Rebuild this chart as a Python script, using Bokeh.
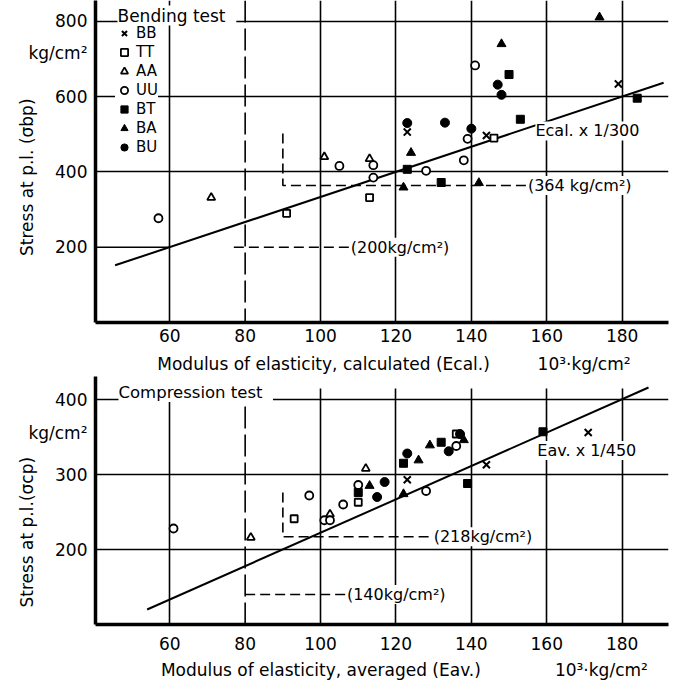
from bokeh.plotting import figure
from bokeh.models import FixedTicker, Label, Span, Legend, LegendItem, Range1d, LinearAxis
from bokeh.layouts import column
from bokeh.embed import file_html
from bokeh.resources import INLINE

FONT = "DejaVu Sans"

# ---------------- data ----------------
x_ticks = [60, 80, 100, 120, 140, 160, 180]
bend_y_ticks = [200, 400, 600, 800]
comp_y_ticks = [200, 300, 400]
series = ["BB", "TT", "AA", "UU", "BT", "BA", "BU"]

# Bending test (Ecal, sigma_bp)
bend_BB_x = [123, 144, 179]
bend_BB_y = [506, 497, 634]
bend_TT_x = [91, 113, 146]
bend_TT_y = [290, 332, 490]
bend_AA_x = [71, 101, 113]
bend_AA_y = [332, 440, 435]
bend_UU_x = [57, 105, 114, 114, 128, 138, 139, 141]
bend_UU_y = [277, 416, 418, 385, 403, 431, 488, 683]
bend_BT_x = [123, 132, 150, 153, 184]
bend_BT_y = [407, 372, 659, 540, 596]
bend_BA_x = [122, 124, 142, 148, 174]
bend_BA_y = [359, 451, 371, 740, 811]
bend_BU_x = [123, 133, 140, 147, 148]
bend_BU_y = [530, 531, 515, 632, 605]

# Compression test (Eav, sigma_cp)
comp_BB_x = [123, 144, 171]
comp_BB_y = [293, 313, 356]
comp_TT_x = [93, 110, 136]
comp_TT_y = [241, 263, 354]
comp_AA_x = [81.5, 102.5, 112]
comp_AA_y = [216, 247, 308]
comp_UU_x = [61, 97, 101, 102.5, 106, 110, 128, 136]
comp_UU_y = [228, 272, 239, 239, 260, 286, 278, 338]
comp_BT_x = [110, 122, 132, 139, 159]
comp_BT_y = [276, 315, 343, 288, 357]
comp_BA_x = [113, 122, 126, 129, 138]
comp_BA_y = [285, 274, 319, 339, 346]
comp_BU_x = [115, 117, 123, 134, 137]
comp_BU_y = [270, 290, 328, 331, 354]

# fitted lines (E x 1/300, E x 1/450)
bend_fit_x = [45.5, 191]
bend_fit_y = [152, 637]
comp_fit_x = [54, 187]
comp_fit_y = [120, 416]

# dashed reference lines
bend_ref364_x = [90, 90, 155]
bend_ref364_y = [502, 364, 364]
bend_ref200_x = [77, 108]
bend_ref200_y = [200, 200]
comp_ref218_x = [90, 90, 130]
comp_ref218_y = [276, 217, 217]
comp_ref140_x = [80, 107]
comp_ref140_y = [140, 140]

# axis texts
bend_y_unit_at = 715
comp_y_unit_at = 356
bend_y_title_at = 386
comp_y_title_at = 223
bend_x_title = ["Modulus of elasticity, calculated (Ecal.)", "10³·kg/cm²"]
bend_x_title_at = [100.8, 169.9]
comp_x_title = ["Modulus of elasticity, averaged (Eav.)", "10³·kg/cm²"]
comp_x_title_at = [100.1, 174.5]

X_START, X_END = 40.3, 192.3

STYLES = {
    "BB": dict(marker="x", size=10, fill_color=None, line_color="black", line_width=2),
    "TT": dict(marker="square", size=7, fill_color="white", line_color="black", line_width=1.8),
    "AA": dict(marker="triangle", size=8, fill_color="white", line_color="black", line_width=1.8),
    "UU": dict(marker="circle", size=8, fill_color="white", line_color="black", line_width=1.8),
    "BT": dict(marker="square", size=8, fill_color="black", line_color="black", line_width=1),
    "BA": dict(marker="triangle", size=9, fill_color="black", line_color="black", line_width=1),
    "BU": dict(marker="circle", size=9, fill_color="black", line_color="black", line_width=1),
}


def base_fig(height, y_range, border_bottom):
    p = figure(width=681, height=height, x_range=Range1d(X_START, X_END), y_range=y_range,
               output_backend="svg", toolbar_location=None,
               min_border_left=95, min_border_right=13, min_border_top=0,
               min_border_bottom=border_bottom)
    p.outline_line_color = None
    p.background_fill_color = "white"
    p.border_fill_color = "white"
    for ax in (p.xaxis, p.yaxis):
        ax.major_tick_line_color = None
        ax.minor_tick_line_color = None
        ax.axis_line_width = 3.5
        ax.axis_line_color = "black"
        ax.major_label_text_font = FONT
        ax.major_label_text_font_size = "17px"
        ax.major_label_text_color = "black"
    p.xaxis.ticker = FixedTicker(ticks=x_ticks)
    p.yaxis.major_label_standoff = 2
    p.xgrid.ticker = FixedTicker(ticks=[t for t in x_ticks if t != 80])
    for g in (p.xgrid, p.ygrid):
        g.grid_line_color = "black"
        g.grid_line_width = 1.6
        g.grid_line_alpha = 1
    return p


def text_axis(p, side, ticks, labels, orientation="horizontal", standoff=0):
    ax = LinearAxis(ticker=FixedTicker(ticks=ticks),
                    major_label_overrides=dict(zip(ticks, labels)),
                    axis_line_color=None, major_tick_line_color=None,
                    minor_tick_line_color=None, major_label_text_font=FONT,
                    major_label_text_font_size="17px", major_label_text_color="black",
                    major_label_standoff=standoff, major_label_orientation=orientation)
    p.add_layout(ax, side)
    return ax


def lab(p, text, x, y, size="16px", units="data", align="left", bg=True):
    kw = dict(x=x, y=y, x_units=units, y_units=units, text=text, text_font=FONT,
              text_font_size=size, text_align=align, text_baseline="middle",
              text_color="black")
    if bg:
        kw.update(background_fill_color="white", background_fill_alpha=1.0)
    p.add_layout(Label(**kw))


# ---------------- Bending test ----------------
p1 = base_fig(376, Range1d(0, 855.6), 53)
p1.yaxis.ticker = FixedTicker(ticks=bend_y_ticks + [bend_y_unit_at])
p1.yaxis.major_label_overrides = {bend_y_unit_at: "kg/cm²"}
p1.xaxis.major_label_standoff = 0
p1.ygrid.ticker = FixedTicker(ticks=[t for t in bend_y_ticks if t != 200])
text_axis(p1, "left", [bend_y_title_at], ["Stress at p.l. (σbp)"], "vertical", -18)
text_axis(p1, "below", bend_x_title_at, bend_x_title, "horizontal", 3)

p1.add_layout(Span(location=80, dimension="height", line_color="black", line_width=1.6,
                   line_dash="22 6"))
p1.segment(x0=[X_START], y0=[bend_y_ticks[0]], x1=[x_ticks[0]], y1=[bend_y_ticks[0]],
           line_color="black", line_width=1.6)
p1.line(bend_fit_x, bend_fit_y, line_color="black", line_width=2)
p1.line(bend_ref364_x, bend_ref364_y, line_color="black", line_width=1.6, line_dash="10 5")
p1.line(bend_ref200_x, bend_ref200_y, line_color="black", line_width=1.6, line_dash="10 5")

bend = {
    "BB": (bend_BB_x, bend_BB_y), "TT": (bend_TT_x, bend_TT_y), "AA": (bend_AA_x, bend_AA_y),
    "UU": (bend_UU_x, bend_UU_y), "BT": (bend_BT_x, bend_BT_y), "BA": (bend_BA_x, bend_BA_y),
    "BU": (bend_BU_x, bend_BU_y),
}
items = []
for name in series:
    xs, ys = bend[name]
    r = p1.scatter(xs, ys, **STYLES[name])
    items.append(LegendItem(label=name, renderers=[r]))
legend = Legend(items=items, location=(20, 166), glyph_width=18, glyph_height=18,
                label_height=18, spacing=1, padding=0, margin=0, label_standoff=3,
                label_text_font=FONT, label_text_font_size="15px", label_text_color="black",
                background_fill_color="white", background_fill_alpha=1.0,
                border_line_color=None)
p1.add_layout(legend)

lab(p1, " Bending test ", 22, 307, size="17px", units="screen")
lab(p1, "Ecal. x 1/300", 157, 509)
lab(p1, "(364 kg/cm²)", 155, 364)
lab(p1, "(200kg/cm²)", 108, 200)

# ---------------- Compression test ----------------
p2 = base_fig(306, Range1d(100, 430.7), 58)
p2.yaxis.ticker = FixedTicker(ticks=comp_y_ticks + [comp_y_unit_at])
p2.yaxis.major_label_overrides = {comp_y_unit_at: "kg/cm²"}
p2.xaxis.major_label_standoff = 6
p2.ygrid.ticker = FixedTicker(ticks=comp_y_ticks)
p2.xgrid.cross_bounds = (100, 415)
text_axis(p2, "left", [comp_y_title_at], ["Stress at p.l.(σcp)"], "vertical", -18)
text_axis(p2, "below", comp_x_title_at, comp_x_title, "horizontal", 1)

p2.segment(x0=[80], y0=[100], x1=[80], y1=[415], line_color="black", line_width=1.6,
           line_dash="22 6")
p2.line(comp_fit_x, comp_fit_y, line_color="black", line_width=2)
p2.line(comp_ref218_x, comp_ref218_y, line_color="black", line_width=1.6, line_dash="10 5")
p2.line(comp_ref140_x, comp_ref140_y, line_color="black", line_width=1.6, line_dash="10 5")

comp = {
    "BB": (comp_BB_x, comp_BB_y), "TT": (comp_TT_x, comp_TT_y), "AA": (comp_AA_x, comp_AA_y),
    "UU": (comp_UU_x, comp_UU_y), "BT": (comp_BT_x, comp_BT_y), "BA": (comp_BA_x, comp_BA_y),
    "BU": (comp_BU_x, comp_BU_y),
}
for name in series:
    xs, ys = comp[name]
    p2.scatter(xs, ys, **STYLES[name])

lab(p2, " Compression test ", 23, 232, size="16.5px", units="screen")
lab(p2, "Eav. x 1/450", 157.5, 332)
lab(p2, "(218kg/cm²)", 130, 217)
lab(p2, "(140kg/cm²)", 107, 140)

layout = column(p1, p2, spacing=0)
open("out.html", "w").write(file_html(layout, INLINE))
